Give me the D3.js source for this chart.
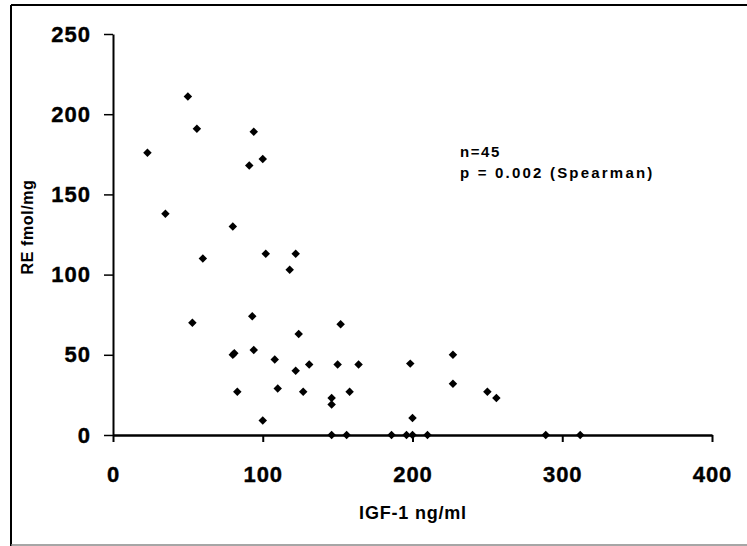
<!DOCTYPE html>
<html>
<head>
<meta charset="utf-8">
<script src="https://cdn.jsdelivr.net/npm/d3@7"></script>
<style>
  body { margin: 0; background: #fff; }
  svg { display: block; font-family: "Liberation Sans", Arial, sans-serif; }
</style>
</head>
<body>
<div id="chart"></div>
<script>
// IGF-1 (ng/ml) vs RE (fmol/mg)
const igf = [23, 50, 56, 94, 91, 100, 35, 80, 60, 102, 122, 118,
             53, 93, 124, 152, 80, 81, 94, 108, 122, 131, 150, 164, 198.5,
             83, 110, 127, 158, 146, 146, 100, 200, 227, 227, 250, 256,
             146, 156, 186, 196, 200, 210, 289, 312];
const re  = [176, 211, 191, 189, 168, 172, 138, 130, 110, 113, 113, 103,
             70, 74, 63, 69, 50, 51, 53, 47, 40, 44, 44, 44, 44.5,
             27, 29, 27, 27, 23, 19, 9, 10.6, 50, 32, 27, 23,
             0, 0, 0, 0, 0, 0, 0, 0];
const xTicks = [0, 100, 200, 300, 400];
const yTicks = [0, 50, 100, 150, 200, 250];

const W = 747, H = 546;
const svg = d3.select("#chart").append("svg")
    .attr("width", W)
    .attr("height", H);

// frame
svg.append("line").attr("x1", 11).attr("y1", 5).attr("x2", W).attr("y2", 5)
    .attr("stroke", "#000").attr("stroke-width", 2);
svg.append("line").attr("x1", 11).attr("y1", 5).attr("x2", 11).attr("y2", H)
    .attr("stroke", "#000").attr("stroke-width", 2);
svg.append("line").attr("x1", 11).attr("y1", 545).attr("x2", W).attr("y2", 545)
    .attr("stroke", "#888").attr("stroke-width", 1.5);

const x = d3.scaleLinear().domain([0, 400]).range([113, 712]);
const y = d3.scaleLinear().domain([0, 250]).range([435, 34]);

// y axis
const yAxis = svg.append("g")
    .attr("transform", `translate(${x(0)},0)`)
    .call(d3.axisLeft(y).tickValues(yTicks).tickSize(9).tickSizeOuter(0).tickPadding(13));
yAxis.select(".domain").attr("stroke-width", 2);
yAxis.selectAll(".tick line").attr("stroke-width", 1.5);
yAxis.selectAll(".tick text")
    .attr("fill", "#000")
    .attr("stroke", "#000")
    .attr("stroke-width", 0.4)
    .style("font-size", "22px")
    .style("font-weight", "bold")
    .style("letter-spacing", "1px");

// x axis
const xAxis = svg.append("g")
    .attr("transform", `translate(0,${y(0)})`)
    .call(d3.axisBottom(x).tickValues(xTicks).tickSize(7).tickSizeOuter(0).tickPadding(24));
xAxis.select(".domain").attr("stroke-width", 2.5);
xAxis.selectAll(".tick line").attr("stroke-width", 2);
xAxis.selectAll(".tick text")
    .attr("fill", "#000")
    .attr("stroke", "#000")
    .attr("stroke-width", 0.4)
    .style("font-size", "22px")
    .style("font-weight", "bold")
    .style("letter-spacing", "1px");

// points
const pts = igf.map((v, i) => [v, re[i]]);
svg.append("g")
    .selectAll("path")
    .data(pts)
    .enter()
    .append("path")
    .attr("d", d3.symbol(d3.symbolSquare, 36))
    .attr("transform", d => `translate(${x(d[0])},${y(d[1])}) rotate(45)`)
    .attr("fill", "#000");

// axis titles
svg.append("text")
    .attr("x", 413)
    .attr("y", 519)
    .attr("text-anchor", "middle")
    .style("font-size", "18px")
    .style("font-weight", "bold")
    .style("letter-spacing", "0.8px")
    .text("IGF-1 ng/ml");

svg.append("text")
    .attr("transform", "translate(33,227) rotate(-90)")
    .attr("text-anchor", "middle")
    .style("font-size", "16px")
    .style("font-weight", "bold")
    .style("letter-spacing", "0.6px")
    .text("RE fmol/mg");

// annotation
svg.append("text")
    .attr("x", 460).attr("y", 157)
    .style("font-size", "15px")
    .style("font-weight", "bold")
    .style("letter-spacing", "1.6px")
    .text("n=45");
svg.append("text")
    .attr("x", 460).attr("y", 178)
    .style("font-size", "15px")
    .style("font-weight", "bold")
    .style("letter-spacing", "2.2px")
    .text("p = 0.002 (Spearman)");
</script>
</body>
</html>
